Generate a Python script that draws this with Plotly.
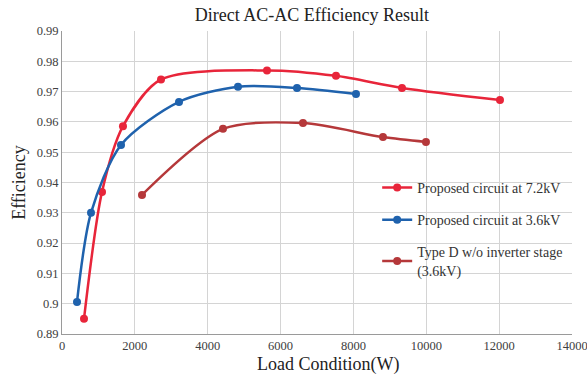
import plotly.graph_objects as go

# Efficiency vs. load for the three converter configurations
load_72kv = [604, 1098, 1674, 2718, 5627, 7521, 9333, 12023]
eff_72kv = [0.895, 0.9369, 0.9586, 0.974, 0.977, 0.9752, 0.9712, 0.9672]

load_36kv = [412, 796, 1620, 3212, 4831, 6451, 8070]
eff_36kv = [0.9006, 0.930, 0.9524, 0.9666, 0.9716, 0.9712, 0.9692]

load_typed = [2196, 4419, 6615, 8811, 9991]
eff_typed = [0.9359, 0.9577, 0.9596, 0.955, 0.9534]

x_ticks = [0, 2000, 4000, 6000, 8000, 10000, 12000, 14000]
y_ticks = [0.89, 0.90, 0.91, 0.92, 0.93, 0.94, 0.95, 0.96, 0.97, 0.98, 0.99]
y_labels = ["0.89", "0.9", "0.91", "0.92", "0.93", "0.94", "0.95", "0.96", "0.97", "0.98", "0.99"]

series = [
    ("Proposed circuit at 7.2kV", load_72kv, eff_72kv, "#e8253a"),
    ("Proposed circuit at 3.6kV", load_36kv, eff_36kv, "#1f62ad"),
    ("Type D w/o inverter stage<br>(3.6kV)", load_typed, eff_typed, "#b5383a"),
]

FONT = "Times New Roman"

fig = go.Figure()
for i, (name, xs, ys, color) in enumerate(series):
    fig.add_trace(go.Scatter(
        x=xs, y=ys, name=name, mode="lines+markers",
        line=dict(color=color, width=2.5, shape="spline", smoothing=0.8),
        marker=dict(color=color, size=8),
        legendgroup=f"g{i}",
    ))

fig.update_layout(
    width=587, height=379,
    margin=dict(l=62, r=15, t=31, b=45),
    paper_bgcolor="white", plot_bgcolor="white",
    font=dict(family=FONT, color="#333333"),
    title=dict(text="Direct AC-AC Efficiency Result", xref="paper", x=0.49, xanchor="center",
               y=0.962, yanchor="middle", font=dict(family=FONT, size=18, color="#222222")),
    showlegend=True,
    legend=dict(x=0.618, y=0.535, xanchor="left", yanchor="top",
                bgcolor="rgba(0,0,0,0)", font=dict(family=FONT, size=14, color="#333333"),
                tracegroupgap=11, itemwidth=30),
    annotations=[dict(
        text="Load Condition(W)", xref="paper", yref="paper",
        x=0.522, y=-0.102, xanchor="center", yanchor="middle", showarrow=False,
        font=dict(family=FONT, size=18, color="#222222"),
    )],
)
fig.update_xaxes(
    range=[0, 14000], tickvals=x_ticks, ticktext=[str(v) for v in x_ticks],
    showgrid=True, gridcolor="#d4d4d4", gridwidth=1,
    showline=True, linecolor="#9a9a9a", linewidth=1, mirror=False,
    zeroline=False, ticks="", automargin=False, ticklabeloverflow="allow",
    tickfont=dict(family=FONT, size=12.5, color="#404040"),
)
fig.update_yaxes(
    range=[0.89, 0.99], tickvals=y_ticks, ticktext=y_labels,
    showgrid=True, gridcolor="#d4d4d4", gridwidth=1,
    showline=True, linecolor="#9a9a9a", linewidth=1,
    zeroline=False, ticks="", automargin=False,
    tickfont=dict(family=FONT, size=12.5, color="#404040"),
    title=dict(text="Efficiency", font=dict(family=FONT, size=18, color="#222222"), standoff=6),
)

fig.write_html("out.html")
